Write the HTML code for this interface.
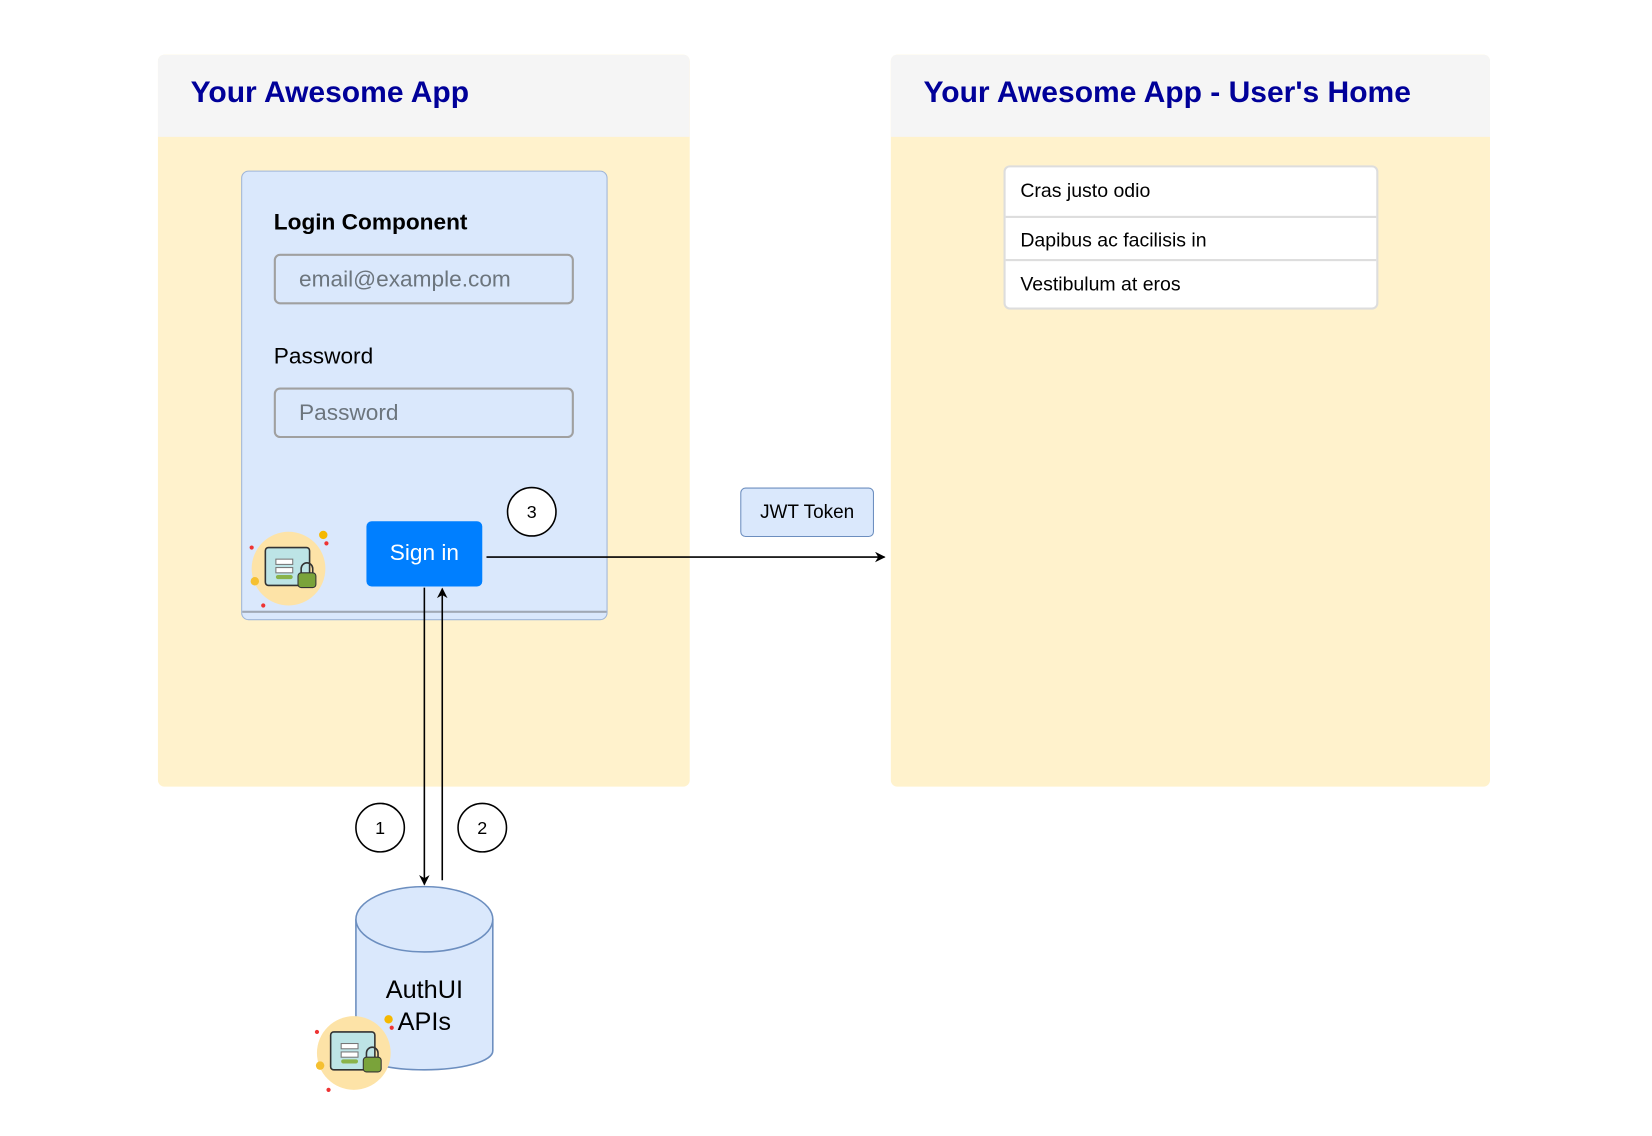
<!DOCTYPE html>
<html><head><meta charset="utf-8"><style>
html,body{margin:0;padding:0;background:#fff;width:1652px;height:1136px;overflow:hidden}
#w{position:absolute;left:0;top:0;width:1569px;height:1079px;transform:scale(1.053);transform-origin:0 0;font-family:"Liberation Sans",Arial,sans-serif}
.a{position:absolute;box-sizing:border-box}
</style></head><body><div id="w">
<div class="a" style="left:150px;top:52px;width:505px;height:695px;background:#fff2cc;border-radius:6px;overflow:hidden">
 <div class="a" style="left:0;top:0;width:505px;height:78px;background:#f5f5f5"></div>
</div>
<div class="a" style="left:181px;top:72px;font-size:28.5px;font-weight:bold;color:#000099">Your Awesome App</div>
<div class="a" style="left:846px;top:52px;width:569px;height:695px;background:#fff2cc;border-radius:6px;overflow:hidden">
 <div class="a" style="left:0;top:0;width:569px;height:78px;background:#f5f5f5"></div>
</div>
<div class="a" style="left:877px;top:72px;font-size:28.5px;font-weight:bold;color:#000099">Your Awesome App - User's Home</div>
<div class="a" style="left:229px;top:162px;width:348px;height:427px;background:#dae8fc;border:1.5px solid #9fb5d8;border-radius:7px"></div>
<div class="a" style="left:230px;top:580px;width:346px;height:2px;background:#a0a8b4"></div>
<div class="a" style="left:260px;top:199px;font-size:21.5px;font-weight:bold;color:#000">Login Component</div>
<div class="a" style="left:260px;top:241px;width:285px;height:48px;border:2px solid #a0a0a0;border-radius:6px;font-size:21.5px;color:#6c757d;padding:10px 0 0 22px">email@example.com</div>
<div class="a" style="left:260px;top:326px;font-size:21.5px;color:#000">Password</div>
<div class="a" style="left:260px;top:368px;width:285px;height:48px;border:2px solid #a0a0a0;border-radius:6px;font-size:21.5px;color:#6c757d;padding:10px 0 0 22px">Password</div>
<div class="a" style="left:348px;top:495px;width:110px;height:62px;background:#007fff;border-radius:5px;color:#fff;font-size:21.5px;text-align:center;line-height:60px">Sign in</div>
<div class="a" style="left:703px;top:463px;width:127px;height:47px;background:#dae8fc;border:1.5px solid #6c8ebf;border-radius:5px;font-size:18px;text-align:center;line-height:44px">JWT Token</div>
<div class="a" style="left:953px;top:157px;width:356px;height:137px;background:#fff;border:2px solid #ddd;border-radius:6px;font-size:18.5px;color:#000">
 <div class="a" style="left:14px;top:11px">Cras justo odio</div>
 <div class="a" style="left:0;top:46px;width:352px;height:2px;background:#ddd"></div>
 <div class="a" style="left:14px;top:58px">Dapibus ac facilisis in</div>
 <div class="a" style="left:0;top:87px;width:352px;height:2px;background:#ddd"></div>
 <div class="a" style="left:14px;top:100px">Vestibulum at eros</div>
</div>
<svg class="a" style="left:0;top:0" width="1569" height="1079" viewBox="0 0 1569 1079">
 <defs><marker id="m" markerWidth="10" markerHeight="10" refX="9" refY="5" orient="auto" markerUnits="userSpaceOnUse"><path d="M0,0 L10,5 L0,10 L3,5z" fill="#000"/></marker></defs>
 <line x1="462" y1="529" x2="840" y2="529" stroke="#000" stroke-width="1.5" marker-end="url(#m)"/>
 <line x1="403" y1="558" x2="403" y2="840" stroke="#000" stroke-width="1.5" marker-end="url(#m)"/>
 <line x1="420" y1="836" x2="420" y2="559" stroke="#000" stroke-width="1.5" marker-end="url(#m)"/>
 <g font-family="Liberation Sans,Arial,sans-serif" font-size="17" text-anchor="middle">
  <circle cx="505" cy="486" r="23" fill="#fff" stroke="#000" stroke-width="1.5"/><text x="505" y="492">3</text>
  <circle cx="361" cy="786" r="23" fill="#fff" stroke="#000" stroke-width="1.5"/><text x="361" y="792">1</text>
  <circle cx="458" cy="786" r="23" fill="#fff" stroke="#000" stroke-width="1.5"/><text x="458" y="792">2</text>
 </g>
 <path d="M338,873 L338,998 A65,18 0 0 0 468,998 L468,873" fill="#dae8fc" stroke="#6c8ebf" stroke-width="1.5"/>
 <ellipse cx="403" cy="873" rx="65" ry="31" fill="#dae8fc" stroke="#6c8ebf" stroke-width="1.5"/>
 <text x="403" y="948" font-family="Liberation Sans,Arial,sans-serif" font-size="24" text-anchor="middle">AuthUI</text>
 <text x="403" y="978" font-family="Liberation Sans,Arial,sans-serif" font-size="24" text-anchor="middle">APIs</text>
 <g id="ic" transform="translate(274,540)">
  <circle r="35" fill="#fde3a7"/>
  <rect x="-22" y="-20" width="42" height="36" rx="3" fill="#bde4e6" stroke="#333" stroke-width="1.5"/>
  <rect x="-12" y="-9" width="16" height="5" fill="#fff" stroke="#777"/>
  <rect x="-12" y="-1" width="16" height="5" fill="#fff" stroke="#777"/>
  <rect x="-12" y="6" width="16" height="4" rx="2" fill="#8ab34a"/>
  <rect x="9" y="4" width="17" height="14" rx="3" fill="#7aa33a" stroke="#333"/>
  <path d="M12,4 v-4 a5,5 0 0 1 11,0 v4" fill="none" stroke="#333" stroke-width="1.5"/>
  <circle cx="-35" cy="-20" r="2" fill="#e33"/><circle cx="33" cy="-32" r="4" fill="#f5b800"/><circle cx="-32" cy="12" r="4" fill="#f5c030"/><circle cx="-24" cy="35" r="2" fill="#e33"/><circle cx="36" cy="-24" r="2" fill="#e33"/>
 </g>
 <use href="#ic" transform="translate(62,460)"/>
</svg>
</div></body></html>
